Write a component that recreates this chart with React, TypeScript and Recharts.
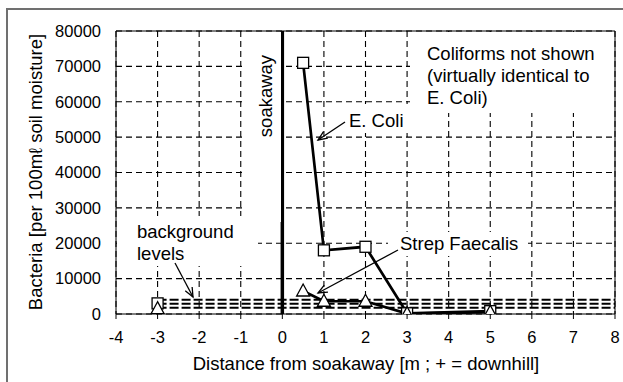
import * as React from "react";
import {
  ComposedChart,
  Line,
  Scatter,
  XAxis,
  YAxis,
  CartesianGrid,
  ReferenceLine,
} from "recharts";

// distance from soakaway [m] and counts per 100 ml soil moisture
const ecoliDist = [0.5, 1, 2, 3, 5];
const ecoliCount = [71000, 18000, 19000, 200, 800];
const strepDist = [0.5, 1, 2, 3, 5];
const strepCount = [6500, 3600, 3600, 100, 500];

// uphill background sample
const bgSampleDist = [-3];
const ecoliBgSample = [3000];
const strepBgSample = [1500];

// background levels (dashed lines)
const bgLevels = [4000, 2900, 1800];
const bgRange = [-3, 8];

const xTicks = [-4, -3, -2, -1, 0, 1, 2, 3, 4, 5, 6, 7, 8];
const yTicks = [0, 10000, 20000, 30000, 40000, 50000, 60000, 70000, 80000];

const FONT = "'Liberation Sans', Arial, sans-serif";

const toPoints = (xs: number[], ys: number[]) => xs.map((x, i) => ({ x, y: ys[i] }));

const ecoliData = toPoints(ecoliDist, ecoliCount);
const strepData = toPoints(strepDist, strepCount);
const ecoliBgData = toPoints(bgSampleDist, ecoliBgSample);
const strepBgData = toPoints(bgSampleDist, strepBgSample);
const bgLines = bgLevels.map((v) => bgRange.map((x) => ({ x, y: v })));

const SquareDot = (props: any) => {
  const { cx, cy, key } = props;
  if (cx == null || cy == null) return <g key={key} />;
  return (
    <rect key={key} x={cx - 5.5} y={cy - 5.5} width={11} height={11} fill="#fff" stroke="#000" strokeWidth={1.3} />
  );
};

const TriangleDot = (props: any) => {
  const { cx, cy, key } = props;
  if (cx == null || cy == null) return <g key={key} />;
  return (
    <polygon
      key={key}
      points={`${cx},${cy - 7} ${cx - 6.5},${cy + 5} ${cx + 6.5},${cy + 5}`}
      fill="#fff"
      stroke="#000"
      strokeWidth={1.3}
    />
  );
};

const Arrow = ({ x1, y1, x2, y2 }: { x1: number; y1: number; x2: number; y2: number }) => {
  const a = Math.atan2(y2 - y1, x2 - x1);
  const h = 10;
  const s = 0.4;
  const p1 = [x2 - h * Math.cos(a - s), y2 - h * Math.sin(a - s)];
  const p2 = [x2 - h * Math.cos(a + s), y2 - h * Math.sin(a + s)];
  return (
    <g stroke="#000" strokeWidth={1.3} fill="none">
      <line x1={x1} y1={y1} x2={x2} y2={y2} />
      <polyline points={`${p1[0]},${p1[1]} ${x2},${y2} ${p2[0]},${p2[1]}`} />
    </g>
  );
};

export default function App() {
  const txt = { fontFamily: FONT, fontSize: 18.5, fill: "#000" };
  return (
    <div style={{ position: "absolute", left: 0, top: 0, width: 623, height: 382, background: "#fff" }}>
      <ComposedChart
        width={623}
        height={382}
        margin={{ top: 31, right: 8, bottom: 38, left: 0 }}
        style={{ fontFamily: FONT }}
      >
        <CartesianGrid stroke="#000" strokeWidth={1.1} strokeDasharray="6 4" />
        <XAxis
          type="number"
          dataKey="x"
          domain={[-4, 8]}
          ticks={xTicks}
          height={30}
          tickSize={5}
          tickMargin={12}
          stroke="#000"
          tick={{ fill: "#000", fontSize: 16.5 }}
          allowDataOverflow
        />
        <YAxis
          type="number"
          dataKey="y"
          domain={[0, 80000]}
          ticks={yTicks}
          width={116}
          tickLine={false}
          tickSize={0}
          tickMargin={15}
          stroke="#000"
          tick={{ fill: "#000", fontSize: 16.5 }}
          allowDataOverflow
        />
        <ReferenceLine y={80000} stroke="#000" strokeWidth={1} />
        <ReferenceLine x={8} stroke="#000" strokeWidth={1} />
        <ReferenceLine x={0} stroke="#000" strokeWidth={3.5} />
        {bgLines.map((d, i) => (
          <Line
            key={i}
            data={d}
            dataKey="y"
            stroke="#000"
            strokeWidth={2}
            strokeDasharray="9 3"
            dot={false}
            isAnimationActive={false}
          />
        ))}
        <Line
          data={ecoliData}
          dataKey="y"
          stroke="#000"
          strokeWidth={2.7}
          dot={SquareDot}
          isAnimationActive={false}
        />
        <Line
          data={strepData}
          dataKey="y"
          stroke="#000"
          strokeWidth={2.7}
          dot={TriangleDot}
          isAnimationActive={false}
        />
        <Scatter data={ecoliBgData} dataKey="y" shape={SquareDot} isAnimationActive={false} />
        <Scatter data={strepBgData} dataKey="y" shape={TriangleDot} isAnimationActive={false} />
      </ComposedChart>
      <svg
        width={623}
        height={382}
        style={{ position: "absolute", left: 0, top: 0, pointerEvents: "none" }}
      >
        <path d="M7,382 L7,9 L623,9" stroke="#707070" strokeWidth={2} fill="none" />
        {/* text boxes (white fill hides grid) */}
        <rect x={243} y={32} width={38} height={190} fill="#fff" />
        <rect x={410} y={32} width={204} height={81} fill="#fff" />
        <rect x={346} y={104} width={62} height={29} fill="#fff" />
        <rect x={388} y={232} width={140} height={24} fill="#fff" />
        <rect x={117} y={216} width={141} height={50} fill="#fff" />

        <text {...txt} x={265} y={96} textAnchor="middle" dominantBaseline="central" transform="rotate(-90 265 96)">
          soakaway
        </text>
        <text {...txt} x={427} y={53} dominantBaseline="central">Coliforms not shown</text>
        <text {...txt} x={427} y={75} dominantBaseline="central">(virtually  identical to</text>
        <text {...txt} x={427} y={97} dominantBaseline="central">E. Coli)</text>
        <text {...txt} x={349} y={120} dominantBaseline="central">E. Coli</text>
        <text {...txt} x={400} y={243} dominantBaseline="central">Strep Faecalis</text>
        <text {...txt} x={137} y={231} dominantBaseline="central">background</text>
        <text {...txt} x={137} y={253} dominantBaseline="central">levels</text>

        <Arrow x1={345} y1={122} x2={318} y2={140} />
        <Arrow x1={398} y1={250} x2={318} y2={293} />
        <Arrow x1={175} y1={263} x2={193} y2={297} />

        <text
          {...txt}
          x={35}
          y={172}
          textAnchor="middle"
          dominantBaseline="central"
          transform="rotate(-90 35 172)"
        >
          Bacteria [per 100mℓ soil moisture]
        </text>
        <text {...txt} x={366} y={363} textAnchor="middle" dominantBaseline="central">
          Distance from soakaway [m ; + = downhill]
        </text>
      </svg>
    </div>
  );
}
